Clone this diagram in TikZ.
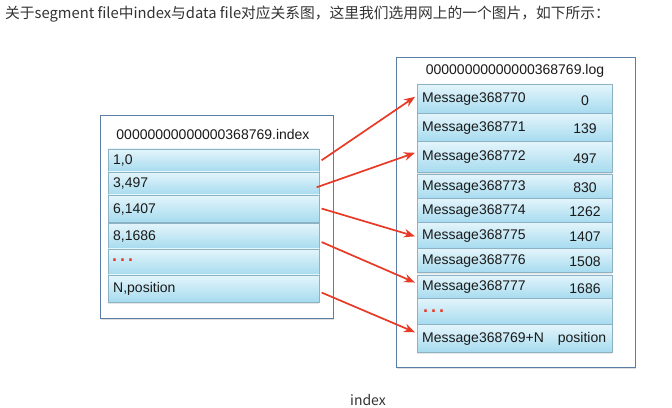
\documentclass[tikz,border=0pt]{standalone}
\usepackage{fontspec}
\setmainfont{Liberation Sans}
\newfontfamily\cjk{Noto Sans CJK SC}
\usetikzlibrary{shadows,calc,arrows.meta}
\definecolor{rowtop}{HTML}{E4F5FB}
\definecolor{rowbot}{HTML}{A6DBEF}
\definecolor{rowline}{HTML}{8DB2C4}
\definecolor{outline}{HTML}{5A7DA6}
\definecolor{arrred}{HTML}{E83A26}
\definecolor{txt}{HTML}{1A1A1A}
\definecolor{hdrtxt}{HTML}{333333}
\tikzset{
  outerbox/.style={draw=outline, line width=0.8pt, fill=white, anchor=north west, inner sep=0pt,
    drop shadow={shadow xshift=1pt, shadow yshift=-1.5pt, opacity=0.25}},
  rowbox/.style={draw=rowline, line width=0.6pt, top color=rowtop, bottom color=rowbot, anchor=north west, inner sep=0pt,
    drop shadow={shadow xshift=0pt, shadow yshift=-1.5pt, opacity=0.2}},
  rowtxt/.style={anchor=west, inner sep=0pt, font=\fontsize{14}{16}\selectfont, text=txt},
  numtxt/.style={anchor=center, inner sep=0pt, font=\fontsize{14}{16}\selectfont, text=txt},
  dots/.style={anchor=west, inner sep=0pt, font=\fontsize{18}{18}\selectfont\bfseries, text=arrred},
  link/.style={draw=arrred, line width=1.7pt, -{Stealth[length=11pt,width=8.5pt]}},
}
\newcommand{\irow}[4]{% name, top, bottom, text
  \node[rowbox, minimum width=211pt, minimum height={#3-#2}] (#1) at (108,#2) {};
  \node[rowtxt] (#1t) at (113,{(#2+#3)/2+1}) {#4};
}
\newcommand{\mrow}[5]{% name, top, bottom, msg, num
  \node[rowbox, minimum width=195pt, minimum height={#3-#2}] (#1) at (417,#2) {};
  \node[rowtxt] (#1t) at (422,{(#2+#3)/2+1}) {#4};
  \node[numtxt] (#1n) at (585,{(#2+#3)/2+2}) {#5};
}
\begin{document}
\begin{tikzpicture}[x=1pt,y=-1pt]
\useasboundingbox (0,0) rectangle (672,407);
\fill[white] (0,0) rectangle (672,407);

\node[anchor=west, inner sep=0pt, text=hdrtxt] (hdr) at (5,14)
  {\cjk\fontsize{14.75}{16}\selectfont 关于segment file中index与data file对应关系图，这里我们选用网上的一个图片，如下所示：};

% left (index) box
\node[outerbox, minimum width=233pt, minimum height=203pt] (ibox) at (100,115) {};
\node[rowtxt, anchor=center] (ititle) at (213,134) {00000000000000368769.index};
\irow{i1}{148.5}{171.5}{1,0}
\irow{i2}{171.5}{194.5}{3,497}
\irow{i3}{194.5}{222}{6,1407}
\irow{i4}{223}{248.5}{8,1686}
\node[rowbox, minimum width=211pt, minimum height=26pt] (i5) at (108,248.5) {};
\node[dots] (i5t) at (112,260) {.\,.\,.};
\irow{i6}{274.5}{302}{N,position}

% right (log) box
\node[outerbox, minimum width=239pt, minimum height=310pt] (lbox) at (395.5,57) {};
\node[rowtxt, anchor=center] (ltitle) at (515,71) {00000000000000368769.log};
\mrow{m0}{84}{113}{Message368770}{0}
\mrow{m1}{113}{141}{Message368771}{139}
\mrow{m2}{141}{172}{Message368772}{497}
\mrow{m3}{174}{198}{Message368773}{830}
\mrow{m4}{198}{222}{Message368774}{1262}
\mrow{m5}{222}{248}{Message368775}{1407}
\mrow{m6}{248}{272}{Message368776}{1508}
\mrow{m7}{274.5}{298}{Message368777}{1686}
\node[rowbox, minimum width=195pt, minimum height=26pt] (m8) at (417,298) {};
\node[dots] (m8t) at (423,311) {.\,.\,.};
\node[rowbox, minimum width=195pt, minimum height=28pt] (m9) at (417,324) {};
\node[rowtxt] (m9t) at (422,339) {Message368769+N};
\node[numtxt] (m9n) at (582,339) {position};

% arrows
\draw[link] ($(i1.east)+(2,0)$) -- ($(m0.west)+(-2,-2)$);
\draw[link] ($(i2.east)+(-3,4)$) -- ($(m2.west)+(-2,-4)$);
\draw[link] ($(i3.east)+(2,0)$) -- ($(m5.west)+(-2,1)$);
\draw[link] ($(i4.east)+(2,6)$) -- ($(m7.west)+(-2,-4)$);
\draw[link] ($(i6.east)+(2,4)$) -- ($(m9.west)+(-2,-6)$);

\node[anchor=center, inner sep=0pt, text=hdrtxt] (cap) at (368,400) {\cjk\fontsize{14}{16}\selectfont index};
\end{tikzpicture}
\end{document}
